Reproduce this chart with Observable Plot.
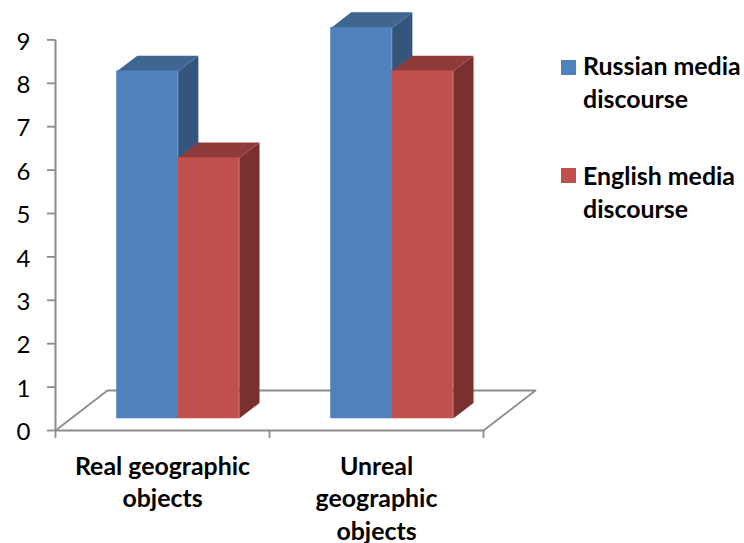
<!DOCTYPE html>
<html>
<head>
<meta charset="utf-8">
<script src="https://cdn.jsdelivr.net/npm/d3@7"></script>
<script src="https://cdn.jsdelivr.net/npm/@observablehq/plot@0.6"></script>
<style>
  html, body { margin: 0; padding: 0; background: #fff; overflow: hidden; }
  #chart { position: relative; width: 744px; height: 543px; font-family: Lato, sans-serif; color: #000; }
  #chart svg { position: absolute; left: 0; top: 0; overflow: visible; }
  .key { position: absolute; left: 561px; }
  .key i { position: absolute; left: 0; width: 15px; height: 15px; }
  .key span { position: absolute; left: 22px; top: 0; width: 170px; font-size: 24.9px; font-weight: 700; line-height: 32.5px; white-space: pre; }
</style>
</head>
<body>
<div id="chart"></div>
<script>
// Chart values
const categories = ["Real geographic\nobjects", "Unreal\ngeographic\nobjects"];
const seriesNames = ["Russian media\ndiscourse", "English media\ndiscourse"];
const russian = [8, 9];
const english = [6, 8];
const yTicks = [0, 1, 2, 3, 4, 5, 6, 7, 8, 9];

// Face shades per series
const frontColors = ["#4f81bd", "#c0504d"];
const topColors = ["#3f6591", "#8e3b39"];
const sideColors = ["#34557c", "#7a302e"];
const axisColor = "#8c8c8c";

// Oblique projection, in axis units: the floor recedes by floorX/floorY,
// bars stand partway back on it and have a fraction of the floor's depth.
const floorX = 52 / 214;
const floorY = 40 / 43.4;
const standAt = 0.3;
const barDepth = 0.39;
const barWidth = 1 / 3.5;
const gap = 0.75 / 3.5;

const bars = [russian, english].flatMap((values, s) =>
  values.map((value, c) => {
    const x1 = c + standAt * floorX + gap + s * barWidth;
    const y0 = standAt * floorY;
    return {key: `${s}-${c}`, s, x1, x2: x1 + barWidth, y0, y1: y0 + value};
  })
);
const depthX = barDepth * floorX;
const depthY = barDepth * floorY;

const sideFaces = bars.flatMap(b => [
  [b.x2, b.y0], [b.x2, b.y1], [b.x2 + depthX, b.y1 + depthY], [b.x2 + depthX, b.y0 + depthY]
].map(([x, y]) => ({x, y, key: b.key, fill: sideColors[b.s]})));

const topFaces = bars.flatMap(b => [
  [b.x1, b.y1], [b.x1 + depthX, b.y1 + depthY], [b.x2 + depthX, b.y1 + depthY], [b.x2, b.y1]
].map(([x, y]) => ({x, y, key: b.key, fill: topColors[b.s]})));

const floor = [[0, 0], [floorX, floorY], [2 + floorX, floorY], [2, 0]];

const plot = Plot.plot({
  width: 744,
  height: 543,
  marginLeft: 55,
  marginRight: 261,
  marginTop: 39.4,
  marginBottom: 113,
  x: {domain: [0, 2]},
  y: {domain: [0, 9]},
  color: {type: "identity"},
  style: {background: "transparent", fontFamily: "Lato, sans-serif", color: "#000"},
  marks: [
    // Floor and axes
    Plot.line(floor, {x: d => d[0], y: d => d[1], stroke: axisColor, strokeWidth: 1.8}),
    Plot.ruleX([0], {y1: 0, y2: 9, stroke: axisColor, strokeWidth: 2}),
    Plot.ruleY([0], {x1: 0, x2: 2, stroke: axisColor, strokeWidth: 2}),
    Plot.axisY({ticks: yTicks, tickSize: 8, tickFormat: () => "", stroke: axisColor, strokeWidth: 1.8, label: null}),
    Plot.axisX({ticks: [0, 1, 2], tickSize: 8, tickFormat: () => "", stroke: axisColor, strokeWidth: 1.8, label: null}),
    Plot.text(yTicks, {x: 0, y: d => d, text: String, dx: -25, dy: 2, textAnchor: "end", fontSize: 24}),

    // Bars: receding faces first, then the fronts
    Plot.line(sideFaces, {x: "x", y: "y", z: "key", fill: "fill", stroke: null}),
    Plot.line(topFaces, {x: "x", y: "y", z: "key", fill: "fill", stroke: null}),
    Plot.rect(bars, {x1: "x1", x2: "x2", y1: "y0", y2: "y1", fill: d => frontColors[d.s], stroke: d => frontColors[d.s], strokeWidth: 0.5}),

    // Category labels
    Plot.text(categories, {
      x: (d, i) => i + 0.5,
      y: 0,
      text: d => d,
      dy: 22,
      lineAnchor: "top",
      lineHeight: 1.29,
      fontSize: 24.9,
      fontWeight: 700
    })
  ]
});

const chart = document.getElementById("chart");
chart.appendChild(plot);

// Series key
seriesNames.forEach((name, i) => {
  const key = document.createElement("div");
  key.className = "key";
  key.style.top = [49, 159][i] + "px";
  const swatch = document.createElement("i");
  swatch.style.background = frontColors[i];
  swatch.style.top = [11, 9][i] + "px";
  const label = document.createElement("span");
  label.textContent = name;
  key.append(swatch, label);
  chart.appendChild(key);
});
</script>
</body>
</html>
